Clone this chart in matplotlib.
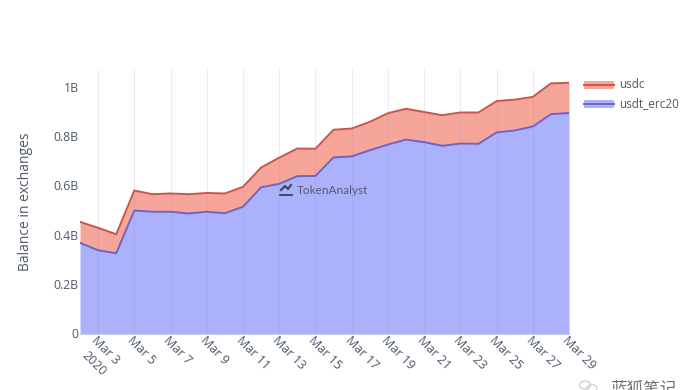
import matplotlib
matplotlib.use("Agg")
import matplotlib.pyplot as plt
from matplotlib.lines import Line2D
from matplotlib.patches import Ellipse, Rectangle
import numpy as np

plt.rcParams["font.family"] = ["Open Sans", "Noto Sans CJK SC", "DejaVu Sans"]

days = list(range(2, 30))
usdt_erc20 = [0.367, 0.337, 0.325, 0.498, 0.493, 0.493, 0.486, 0.493, 0.487, 0.513,
              0.592, 0.606, 0.637, 0.638, 0.713, 0.717, 0.742, 0.765, 0.785, 0.775,
              0.760, 0.769, 0.768, 0.814, 0.822, 0.838, 0.888, 0.893]
usdc = [0.085, 0.091, 0.077, 0.081, 0.071, 0.074, 0.078, 0.076, 0.080, 0.081,
        0.080, 0.106, 0.112, 0.110, 0.112, 0.113, 0.115, 0.127, 0.125, 0.122,
        0.124, 0.126, 0.127, 0.127, 0.125, 0.120, 0.125, 0.122]
tick_days = list(range(3, 30, 2))
tick_labels = [f"Mar {d}" for d in tick_days]
y_ticks = [0, 0.2, 0.4, 0.6, 0.8, 1.0]
y_labels = ["0", "0.2B", "0.4B", "0.6B", "0.8B", "1B"]

TXT = "#4d5869"
RED = "#c9564a"
BLUE = "#6f62c8"
RED_FILL = "#f6a59a"
BLUE_FILL = "#abb2fb"

W, H = 700, 390
fig = plt.figure(figsize=(W / 100, H / 100), dpi=100)
ax = fig.add_axes([80 / W, 1 - 333.5 / H, 489 / W, 263.5 / H])

low = np.array(usdt_erc20)
top = low + np.array(usdc)
ax.fill_between(days, 0, low, color=BLUE_FILL, lw=0, zorder=1)
ax.fill_between(days, low, top, color=RED_FILL, lw=0, zorder=1)
ax.plot(days, top, color=RED, lw=1.4, zorder=3)
ax.plot(days, low, color=BLUE, lw=1.4, zorder=3)

ax.set_xlim(2, 29)
ax.set_ylim(0, 1.067)
ax.set_xticks(tick_days)
ax.set_xticklabels(tick_labels, rotation=-45, ha="left", va="top",
                   rotation_mode="anchor", fontsize=9, color=TXT)
ax.set_yticks(y_ticks)
ax.set_yticklabels(y_labels, fontsize=8.8, color=TXT)
ax.tick_params(axis="x", length=0, pad=0)
ax.tick_params(axis="y", length=0, pad=1)
ax.grid(axis="x", color="#8088a8", alpha=0.16, lw=0.8, zorder=2)
ax.set_axisbelow(False)
for side in ["top", "right", "left"]:
    ax.spines[side].set_visible(False)
ax.spines["bottom"].set_color("#c8ccd6")
ax.spines["bottom"].set_linewidth(0.8)
ax.set_ylabel("Balance in exchanges", fontsize=10, color=TXT, va="center")
ax.yaxis.set_label_coords((26 - 80) / 489, 0.5)

# year under the first tick
fig.text(89 / W, 1 - 349 / H, "2020", rotation=-45, ha="left", va="top",
         rotation_mode="anchor", fontsize=9, color=TXT)

for y, name, fill, edge in [(85, "usdc", RED_FILL, RED),
                            (104, "usdt_erc20", BLUE_FILL, BLUE)]:
    fig.add_artist(Rectangle((584 / W, 1 - (y + 3.5) / H), 30 / W, 7 / H, color=fill,
                             lw=0, transform=fig.transFigure))
    fig.add_artist(Line2D([584 / W, 614 / W], [1 - y / H] * 2, color=edge, lw=1.4))
    fig.text(619 / W, 1 - y / H, name, fontsize=8.5, color=TXT, va="center")

# TokenAnalyst watermark
fig.text(297 / W, 1 - 190 / H, "TokenAnalyst", fontsize=8.5, color="#4a5068",
         family="Lato", va="center", alpha=0.9)
fig.add_artist(Line2D(np.array([281, 285, 288, 291]) / W,
                      1 - np.array([190, 186, 189, 185]) / H, color="#3c4258", lw=1.5))
fig.add_artist(Line2D(np.array([280, 292]) / W, [1 - 195 / H] * 2, color="#3c4258", lw=1.3))

# WeChat style stamp, cut off by the lower edge as in the reference
for cx, cy, w, h in [(585, 385, 11, 8), (592, 388, 10, 7)]:
    fig.add_artist(Ellipse((cx / W, 1 - cy / H), w / W, h / H, fill=False, ec="#d0d0d0",
                           lw=0.9, transform=fig.transFigure))
fig.text(610 / W, 1 - 381 / H, "蓝狐笔记", fontsize=12, color="#707070",
         family="Noto Sans CJK SC", va="top")

fig.savefig("out.png", dpi=100)
